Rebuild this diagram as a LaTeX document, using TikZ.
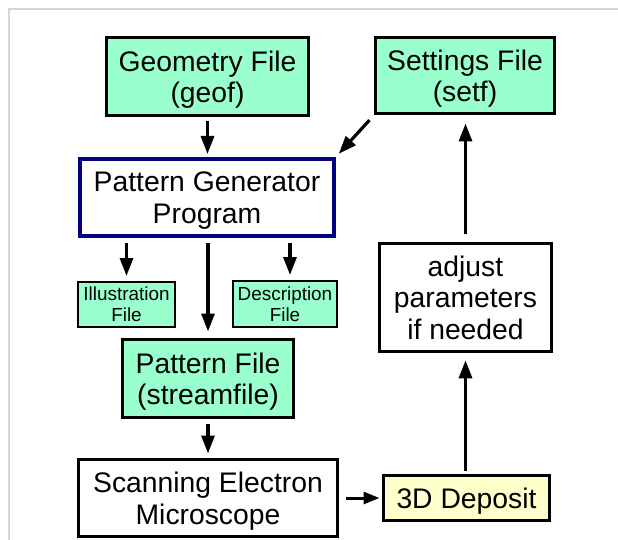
\documentclass[tikz,border=0pt]{standalone}
\usepackage{fontspec}
\setmainfont{Liberation Sans}
\usetikzlibrary{arrows.meta}
\definecolor{boxgreen}{HTML}{99FFCC}
\definecolor{boxyellow}{HTML}{FFFFCC}
\definecolor{navy}{HTML}{000080}
\definecolor{framegray}{HTML}{D6D6D6}
\tikzset{
  bigtext/.style={font=\fontsize{28.3}{31.5}\selectfont},
  smalltext/.style={font=\fontsize{18.9}{20.7}\selectfont},
  basebox/.style={draw=black, line width=3pt, inner sep=0pt, outer sep=0pt, align=center, text depth=0pt},
  greenbox/.style={basebox, fill=boxgreen, bigtext},
  smallbox/.style={basebox, fill=boxgreen, line width=2pt, smalltext},
  whitebox/.style={basebox, fill=white, bigtext},
  progbox/.style={basebox, fill=white, draw=navy, line width=4pt, bigtext},
  yellowbox/.style={basebox, fill=boxyellow, bigtext},
  flow/.style={line width=3.2pt, -{Triangle[length=18pt,width=13pt]}},
}
\begin{document}
\begin{tikzpicture}[x=1pt,y=-1pt]
\useasboundingbox (0,0) rectangle (618,540);
\draw[framegray, line width=2pt] (9,540) -- (9,9) -- (618,9);

\node[greenbox, minimum width=202pt, minimum height=78pt] (geo) at (207.5,76.5) {Geometry File\\(geof)};
\node[greenbox, minimum width=179pt, minimum height=76pt] (set) at (465,75.5) {Settings File\\(setf)};
\node[progbox, minimum width=254pt, minimum height=77pt] (pgp) at (207,197.5) {Pattern Generator\\Program};
\node[smallbox, minimum width=97pt, minimum height=45pt] (ill) at (126.5,304.5) {Illustration\\File};
\node[smallbox, minimum width=104pt, minimum height=46pt] (desc) at (285,304) {Description\\File};
\node[greenbox, minimum width=171pt, minimum height=78pt] (pf) at (208,378.5) {Pattern File\\(streamfile)};
\node[whitebox, minimum width=259pt, minimum height=77pt] (sem) at (208,498) {Scanning Electron\\Microscope};
\node[yellowbox, minimum width=166pt, minimum height=45pt] (dep) at (466.5,498) {3D Deposit};
\node[whitebox, minimum width=172pt, minimum height=108pt] (adj) at (465.5,297.3) {adjust\\parameters\\if needed};

\draw[flow, shorten <=6pt, shorten >=5pt] (geo.south) -- (geo.south |- pgp.north);
\draw[flow, shorten <=9pt, shorten >=7pt] (set.south west) -- (pgp.north east);
\draw[flow, shorten <=7pt, shorten >=6pt] (pgp.south -| ill.north) -- (ill.north);
\draw[flow, shorten <=7pt, shorten >=8pt] (pgp.south -| pf.north) -- (pf.north);
\draw[flow, shorten <=7pt, shorten >=6pt] ([xshift=5pt]desc.north |- pgp.south) -- ([xshift=5pt]desc.north);
\draw[flow, shorten <=6pt, shorten >=6pt] (pf.south) -- (pf.south |- sem.north);
\draw[flow, line width=3pt, -{Triangle[length=16pt,width=12pt]}, shorten <=8pt, shorten >=4pt] (sem.east) -- (dep.west);
\draw[flow, shorten <=5pt, shorten >=9pt] (dep.north -| adj.south) -- (adj.south);
\draw[flow, shorten <=9pt, shorten >=10pt] (adj.north) -- (adj.north |- set.south);
\end{tikzpicture}
\end{document}
